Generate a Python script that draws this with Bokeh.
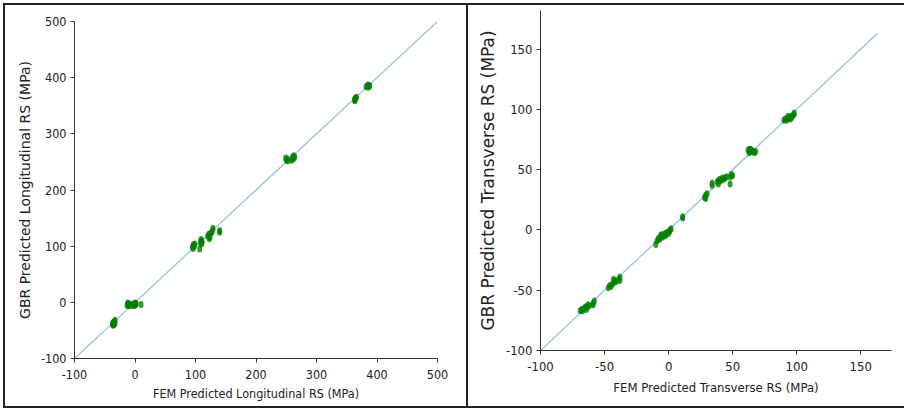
from bokeh.plotting import figure
from bokeh.layouts import row, column
from bokeh.models import Range1d, FixedTicker
from bokeh.embed import file_html
from bokeh.resources import INLINE

# ---- Longitudinal residual stress (FEM vs GBR) ----
long_fem = [-37, -36, -35, -34, -36, -34, -33, -35, -37, -33,
            -13, -12, -11, -10, -9, -8, -7, -12,
            -3, -1, 0, 1, 2, 0, -2, 1,
            10,
            95, 96, 97, 98, 96, 99,
            107,
            108, 110, 111, 109, 110,
            120, 122, 124, 125, 127, 128, 129, 123,
            140, 140,
            249, 250, 252, 253, 260, 261, 262, 263, 259, 264,
            363, 364, 365, 366, 363,
            382, 384, 386, 387, 385, 388]
long_gbr = [-40, -38, -36, -34, -41, -39, -32, -35, -37, -37,
            -5, -3, -6, -4, -5, -3, -5, -1,
            -4, -2, -5, -3, -2, -1, -6, -4,
            -4,
            98, 101, 103, 100, 96, 104,
            95,
            106, 110, 107, 112, 104,
            118, 121, 116, 123, 125, 128, 132, 113,
            128, 125,
            257, 253, 255, 252, 258, 255, 261, 257, 253, 259,
            362, 360, 364, 365, 359,
            384, 385, 383, 386, 387, 385]
long_ticks = [-100, 0, 100, 200, 300, 400, 500]
long_line = [-100, 500]

# ---- Transverse residual stress (FEM vs GBR) ----
tran_fem = [-69, -68, -67, -66, -65, -64, -63, -62, -64, -59, -58, -59,
            -47, -46, -45, -44, -43, -42, -43, -41, -39, -38, -38,
            -10, -9, -8, -7, -6, -5, -4, -3, -2, -1, 0, 1, 2, 1, -6, -3,
            11, 11,
            28, 29, 30, 29,
            34, 34,
            38, 39, 40, 41, 42, 43, 44, 45, 39,
            48, 49, 50, 48,
            62, 63, 63, 64, 65, 66, 67, 68, 64,
            90, 91, 92, 93, 94, 95, 96, 97, 98, 98, 93, 95]
tran_gbr = [-67, -66, -67, -65, -64, -64, -62, -63, -66, -61, -59, -62,
            -48, -46, -47, -45, -44, -42, -41, -43, -41, -39, -42,
            -12, -9, -7, -8, -5, -6, -4, -3, -4, -2, -3, 0, 1, -1, -4, -5,
            10, 11,
            27, 29, 30, 26,
            39, 37,
            40, 41, 42, 41, 43, 42, 43, 44, 38,
            44, 46, 45, 38,
            66, 67, 64, 65, 66, 65, 64, 65, 67,
            91, 92, 91, 92, 93, 94, 93, 95, 96, 97, 94, 92]
tran_xticks = [-100, -50, 0, 50, 100, 150]
tran_yticks = [-100, -50, 0, 50, 100, 150]
tran_line = [-100, 163]

LINE_COLOR = "#a5c9e1"
PT_COLOR = "#008000"
AX_COLOR = "#333333"
TXT_COLOR = "#222222"
COND = "DejaVu Sans Condensed"


def style(p, xticks, yticks, tick_size, xlab_size, ylab_size, xlab_standoff):
    p.grid.visible = False
    p.outline_line_color = None
    for ax in (p.xaxis[0], p.yaxis[0]):
        ax.axis_line_color = AX_COLOR
        ax.axis_line_width = 1
        ax.major_tick_line_color = AX_COLOR
        ax.major_tick_out = 4
        ax.major_tick_in = 0
        ax.minor_tick_line_color = None
        ax.major_label_text_font = COND
        ax.major_label_text_font_size = tick_size
        ax.major_label_text_color = TXT_COLOR
        ax.axis_label_text_font_style = "normal"
        ax.axis_label_text_color = TXT_COLOR
    p.xaxis[0].ticker = FixedTicker(ticks=xticks)
    p.yaxis[0].ticker = FixedTicker(ticks=yticks)
    p.xaxis[0].major_label_overrides = {t: str(t) for t in xticks}
    p.yaxis[0].major_label_overrides = {t: str(t) for t in yticks}
    p.xaxis[0].axis_label_text_font = COND
    p.xaxis[0].axis_label_text_font_size = xlab_size
    p.yaxis[0].axis_label_text_font = "DejaVu Sans"
    p.yaxis[0].axis_label_text_font_size = ylab_size
    p.xaxis[0].major_label_standoff = 7
    p.yaxis[0].major_label_standoff = 4
    p.xaxis[0].axis_label_standoff = xlab_standoff
    p.yaxis[0].axis_label_standoff = 5


p1 = figure(frame_width=359, frame_height=333, output_backend="svg", toolbar_location=None,
            x_range=Range1d(-100, 500), y_range=Range1d(-100, 500),
            min_border_left=69, min_border_right=33, min_border_top=16, min_border_bottom=52,
            x_axis_label="FEM Predicted Longitudinal RS (MPa)",
            y_axis_label="GBR Predicted Longitudinal RS (MPa)")
p1.line(long_line, long_line, line_color=LINE_COLOR, line_width=1.5)
p1.ellipse(long_fem, long_gbr, width=5, height=7, width_units="screen", height_units="screen",
           fill_color=PT_COLOR, fill_alpha=0.8, line_color=None)
style(p1, long_ticks, long_ticks, "12.5px", "12.5px", "14px", 4)
p1.styles = {"border": "2px solid #222222", "margin-left": "3px", "margin-top": "3px"}

p2 = figure(frame_width=351, frame_height=336, output_backend="svg", toolbar_location=None,
            x_range=Range1d(-100, 174), y_range=Range1d(-100, 182),
            min_border_left=72, min_border_right=13, min_border_top=5, min_border_bottom=60,
            x_axis_label="FEM Predicted Transverse RS (MPa)",
            y_axis_label="GBR Predicted Transverse RS (MPa)")
p2.line(tran_line, tran_line, line_color=LINE_COLOR, line_width=1.5)
p2.ellipse(tran_fem, tran_gbr, width=5, height=7, width_units="screen", height_units="screen",
           fill_color=PT_COLOR, fill_alpha=0.8, line_color=None)
style(p2, tran_xticks, tran_yticks, "13px", "13px", "17px", 6)
p2.styles = {"border-top": "2px solid #222222", "border-bottom": "2px solid #222222",
             "margin-top": "3px"}

layout = row(column(p1), column(p2))
open("out.html", "w").write(file_html(layout, INLINE))
